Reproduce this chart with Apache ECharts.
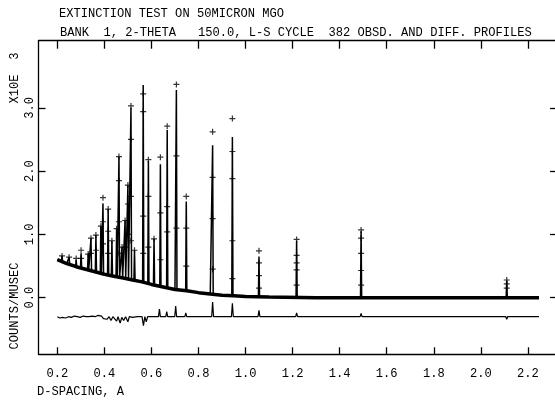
<!DOCTYPE html>
<html><head><meta charset="utf-8">
<script src="https://cdn.jsdelivr.net/npm/echarts@6/dist/echarts.min.js"></script>
<style>html,body{margin:0;padding:0;background:#fff}#c{width:555px;height:400px}</style>
</head><body><div id="c"></div>
<script>
// ---- texts ----
const titleLine1 = "EXTINCTION TEST ON 50MICRON MGO";
const titleLine2 = "BANK  1, 2-THETA   150.0, L-S CYCLE  382 OBSD. AND DIFF. PROFILES";
const xAxisTitle = "D-SPACING, A";
const yAxisTitle = "COUNTS/MUSEC";
const yScaleNote = "X10E  3";
const xTickValues = [0.2, 0.4, 0.6, 0.8, 1.0, 1.2, 1.4, 1.6, 1.8, 2.0, 2.2];
const yTickValues = [0, 1, 2, 3];

// ---- background under the profile (d-spacing, counts x1e3) ----
const bgD = [0.200, 0.240, 0.280, 0.320, 0.360, 0.400, 0.440, 0.480, 0.520, 0.560, 0.600, 0.650, 0.700, 0.750, 0.800, 0.850, 0.900, 0.950, 1.000, 1.100, 1.300, 1.600, 2.000, 2.247];
const bgY = [0.60, 0.54, 0.49, 0.45, 0.41, 0.37, 0.34, 0.31, 0.28, 0.25, 0.21, 0.17, 0.13, 0.11, 0.08, 0.06, 0.04, 0.03, 0.02, 0.01, 0.00, 0.00, 0.00, 0.00];

// ---- Bragg peaks ----
const peakD    = [0.220, 0.250, 0.280, 0.301, 0.331, 0.343, 0.364, 0.385, 0.394, 0.416, 0.432, 0.452, 0.462, 0.475, 0.488, 0.500, 0.513, 0.528, 0.565, 0.587, 0.611, 0.638, 0.667, 0.706, 0.748, 0.860, 0.944, 1.057, 1.217, 1.491, 2.110];
const peakBase = [0.57, 0.53, 0.49, 0.47, 0.44, 0.43, 0.41, 0.39, 0.38, 0.36, 0.35, 0.33, 0.32, 0.31, 0.30, 0.29, 0.28, 0.27, 0.24, 0.22, 0.20, 0.18, 0.16, 0.13, 0.11, 0.06, 0.03, 0.01, 0.00, 0.00, 0.00];
const peakCalc = [0.66, 0.64, 0.60, 0.70, 0.69, 0.94, 0.99, 1.13, 1.49, 1.40, 0.90, 1.09, 2.23, 0.80, 1.22, 1.78, 3.00, 0.75, 3.36, 2.16, 0.93, 2.11, 2.65, 3.28, 1.52, 2.41, 2.54, 0.65, 0.90, 1.05, 0.27];
const peakObs  = [0.66, 0.64, 0.62, 0.75, 0.69, 0.94, 0.99, 1.13, 1.58, 1.40, 0.90, 1.09, 2.23, 0.80, 1.22, 1.78, 3.03, 0.75, 3.22, 2.18, 0.93, 2.22, 2.71, 3.37, 1.60, 2.62, 2.83, 0.74, 0.92, 1.07, 0.28];

// ---- observed points on the peak flanks ----
const obsD = [0.301, 0.343, 0.364, 0.394, 0.394, 0.416, 0.416, 0.462, 0.462, 0.462, 0.488, 0.500, 0.500, 0.513, 0.513, 0.513, 0.565, 0.565, 0.565, 0.587, 0.587, 0.638, 0.638, 0.667, 0.667, 0.706, 0.706, 0.748, 0.748, 0.860, 0.860, 0.860, 0.944, 0.944, 0.944, 0.944, 1.057, 1.057, 1.057, 1.217, 1.217, 1.217, 1.217, 1.491, 1.491, 1.491, 1.491, 2.110, 2.110];
const obsY = [0.62, 0.70, 0.75, 1.20, 0.85, 1.05, 0.70, 1.85, 1.20, 0.70, 0.80, 1.48, 1.00, 2.50, 1.60, 0.90, 2.94, 1.29, 0.70, 1.60, 0.80, 1.34, 0.60, 1.44, 1.04, 2.24, 1.10, 1.10, 0.50, 1.90, 1.25, 0.45, 2.31, 1.88, 0.90, 0.30, 0.55, 0.35, 0.15, 0.67, 0.55, 0.44, 0.20, 0.94, 0.70, 0.43, 0.20, 0.22, 0.15];

// ---- difference curve ----
const diffD = [0.200, 0.210, 0.222, 0.235, 0.248, 0.260, 0.272, 0.285, 0.297, 0.310, 0.322, 0.335, 0.348, 0.360, 0.372, 0.380, 0.388, 0.396, 0.404, 0.412, 0.420, 0.428, 0.436, 0.444, 0.452, 0.458, 0.467, 0.474, 0.482, 0.490, 0.500, 0.506, 0.520, 0.540, 0.560, 0.566, 0.572, 0.578, 0.584, 0.600, 0.630, 0.634, 0.638, 0.661, 0.665, 0.669, 0.699, 0.703, 0.707, 0.742, 0.746, 0.750, 0.800, 0.856, 0.860, 0.864, 0.940, 0.944, 0.948, 1.053, 1.057, 1.061, 1.213, 1.217, 1.221, 1.487, 1.491, 1.495, 1.800, 2.106, 2.110, 2.114, 2.247];
const diffY = [-0.30, -0.32, -0.31, -0.32, -0.30, -0.31, -0.29, -0.30, -0.31, -0.29, -0.30, -0.30, -0.29, -0.30, -0.28, -0.26, -0.29, -0.33, -0.31, -0.34, -0.30, -0.36, -0.30, -0.33, -0.37, -0.30, -0.40, -0.31, -0.36, -0.30, -0.38, -0.30, -0.31, -0.30, -0.30, -0.44, -0.30, -0.38, -0.30, -0.30, -0.30, -0.18, -0.30, -0.30, -0.22, -0.30, -0.30, -0.13, -0.30, -0.30, -0.24, -0.30, -0.30, -0.30, -0.07, -0.30, -0.30, -0.09, -0.30, -0.30, -0.20, -0.30, -0.30, -0.24, -0.30, -0.30, -0.25, -0.30, -0.30, -0.30, -0.34, -0.30, -0.30];

// ---- build series data ----
const HW = 0.0025; // half width of the drawn peak
const calcPts = [];
bgD.forEach((d, i) => {
  if (!peakD.some(p => Math.abs(p - d) < 2 * HW)) calcPts.push([d, bgY[i]]);
});
peakD.forEach((d, i) => {
  calcPts.push([d - HW, peakBase[i]]);
  calcPts.push([d, peakCalc[i]]);
  calcPts.push([d + HW, peakBase[i]]);
});
calcPts.sort((a, b) => a[0] - b[0]);
const bandPts = bgD.map((d, i) => [d, bgY[i]]);
const obsPts = obsD.map((d, i) => [d, obsY[i]]).concat(peakD.map((d, i) => [d, peakObs[i]]));
const diffPts = diffD.map((d, i) => [d, diffY[i]]);

const FONT = '"Liberation Mono", "DejaVu Sans Mono", monospace';
const FS = 12.1;
const plus = 'path://M4,0H6V4H10V6H6V10H4V6H0V4H4Z';
const axisLineStyle = { color: '#000', width: 1.3 };

const chart = echarts.init(document.getElementById('c'), null, { renderer: 'canvas' });
chart.setOption({
  animation: false,
  backgroundColor: '#fff',
  grid: { left: 38.5, top: 40.7, right: -2, bottom: 45.7, containLabel: false, outerBoundsMode: 'none' },
  xAxis: [
    { type: 'value', position: 'bottom', min: 0.120, max: 2.3236,
      axisLine: { show: true, onZero: false, lineStyle: axisLineStyle },
      axisTick: { show: true, inside: true, length: 7, customValues: xTickValues, lineStyle: axisLineStyle },
      axisLabel: { show: true, customValues: xTickValues, margin: 13, color: '#000', fontFamily: FONT, fontSize: FS,
                   formatter: v => v.toFixed(1) },
      splitLine: { show: false } },
    { type: 'value', position: 'top', min: 0.120, max: 2.3236,
      axisLine: { show: true, onZero: false, lineStyle: axisLineStyle },
      axisTick: { show: true, inside: true, length: 8, customValues: xTickValues, lineStyle: axisLineStyle },
      axisLabel: { show: false }, splitLine: { show: false } }
  ],
  yAxis: [
    { type: 'value', position: 'left', min: -0.894, max: 4.06,
      axisLine: { show: true, onZero: false, lineStyle: axisLineStyle },
      axisTick: { show: true, inside: true, length: 7, customValues: yTickValues, lineStyle: axisLineStyle },
      axisLabel: { show: true, customValues: yTickValues, rotate: 90, margin: 3, color: '#000', fontFamily: FONT, fontSize: FS,
                   formatter: v => v.toFixed(1) },
      splitLine: { show: false } },
    { type: 'value', position: 'right', min: -0.894, max: 4.06,
      axisLine: { show: true, onZero: false, lineStyle: axisLineStyle },
      axisTick: { show: true, inside: true, length: 7, customValues: yTickValues, lineStyle: axisLineStyle },
      axisLabel: { show: false }, splitLine: { show: false } }
  ],
  graphic: [
    { type: 'text', x: 59, y: 14, style: { text: titleLine1, font: FS + 'px ' + FONT, fill: '#000', verticalAlign: 'middle' } },
    { type: 'text', x: 60, y: 33, style: { text: titleLine2, font: FS + 'px ' + FONT, fill: '#000', verticalAlign: 'middle' } },
    { type: 'text', x: 37, y: 392, style: { text: xAxisTitle, font: FS + 'px ' + FONT, fill: '#000', verticalAlign: 'middle' } },
    { type: 'text', x: 15, y: 306, rotation: Math.PI / 2, style: { text: yAxisTitle, font: FS + 'px ' + FONT, fill: '#000', align: 'center', verticalAlign: 'middle' } },
    { type: 'text', x: 15, y: 78, rotation: Math.PI / 2, style: { text: yScaleNote, font: FS + 'px ' + FONT, fill: '#000', align: 'center', verticalAlign: 'middle' } }
  ],
  series: [
    { type: 'line', name: 'band', data: bandPts, showSymbol: false, symbol: 'none', silent: true,
      lineStyle: { color: '#000', width: 3.5 }, z: 2 },
    { type: 'line', name: 'calc', data: calcPts, showSymbol: false, symbol: 'none', silent: true,
      lineStyle: { color: '#000', width: 1.5 }, z: 3 },
    { type: 'scatter', name: 'obs', data: obsPts, symbol: plus, symbolSize: 6, silent: true,
      itemStyle: { color: '#000' }, z: 4 },
    { type: 'line', name: 'diff', data: diffPts, showSymbol: false, symbol: 'none', silent: true,
      lineStyle: { color: '#000', width: 1.2 }, z: 3 }
  ]
});
</script></body></html>
